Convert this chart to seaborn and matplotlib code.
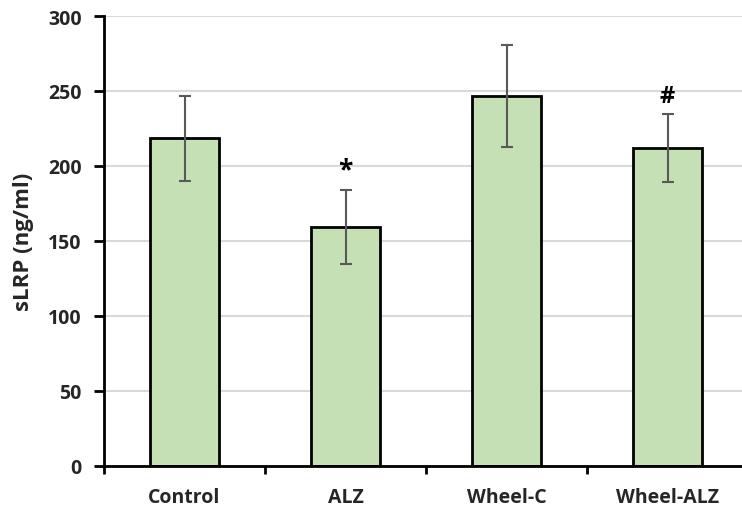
import matplotlib
matplotlib.use("Agg")
import matplotlib.pyplot as plt
import seaborn as sns
import pandas as pd

groups = ["Control", "ALZ", "Wheel-C", "Wheel-ALZ"]
means = [218.4, 159.4, 246.6, 212.1]
errors = [28.2, 24.8, 34.2, 22.7]
marks = ["", "*", "", "#"]
y_ticks = [0, 50, 100, 150, 200, 250, 300]

sns.set_theme(style="white")
plt.rcParams["font.family"] = ["Open Sans", "DejaVu Sans"]
plt.rcParams["font.weight"] = "bold"

df = pd.DataFrame({"group": groups, "value": means})

fig = plt.figure(figsize=(7.42, 5.10), dpi=100)
ax = fig.add_axes([104 / 742, 43.3 / 510, 644 / 742, 449.7 / 510])

sns.barplot(data=df, x="group", y="value", color="#c5e0b4", width=0.43,
            edgecolor="black", linewidth=2, saturation=1, errorbar=None, ax=ax)

ax.errorbar(range(len(groups)), means, yerr=errors, fmt="none",
            ecolor="#595959", elinewidth=1.5, capsize=4.3, capthick=1.5, zorder=5)

for i, (m, e, s) in enumerate(zip(means, errors, marks)):
    if s:
        size = 19 if s == "*" else 17
        ax.text(i, m + e + 4, s, ha="center", va="bottom", fontsize=size,
                fontweight="bold", color="black")

ax.set_ylim(0, 300)
ax.set_xlim(-0.5, 3.5)
ax.set_yticks(y_ticks)
ax.set_yticklabels([str(t) for t in y_ticks], fontsize=14, fontweight="bold")
ax.yaxis.grid(True, color="#d9d9d9", linewidth=1.5)
ax.set_axisbelow(True)

ax.set_xticks(range(len(groups)))
ax.set_xticklabels(groups, fontsize=14, fontweight="bold")
ax.set_xticks([-0.5, 0.5, 1.5, 2.5, 3.5], minor=True)
ax.tick_params(axis="x", which="major", length=0, pad=15)
ax.tick_params(axis="x", which="minor", length=6, width=2, color="black",
               direction="out", bottom=True)
ax.tick_params(axis="y", length=7, width=2, color="black", direction="out",
               left=True, pad=9)

for side in ["top", "right"]:
    ax.spines[side].set_visible(False)
for side in ["left", "bottom"]:
    ax.spines[side].set_color("black")
    ax.spines[side].set_linewidth(2)

ax.set_xlabel("")
ax.set_ylabel("sLRP (ng/ml)", fontsize=16, fontweight="bold", labelpad=10)

fig.savefig("out.png", dpi=100)
